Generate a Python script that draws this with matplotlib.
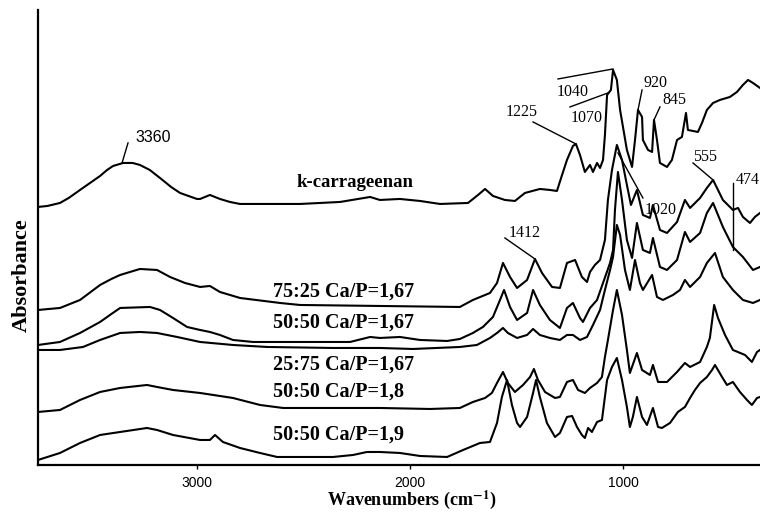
import matplotlib
matplotlib.use('Agg')
import matplotlib.pyplot as plt

# FTIR spectra: wavenumber (cm-1) and absorbance (a.u.),
# spectra already stacked the way the original figure shows them.

carr_wn = [3744, 3700, 3641, 3600, 3547, 3500, 3453, 3420, 3392, 3345, 3300, 3266, 3220,
           3172, 3120, 3078, 2999, 2984, 2938, 2891,
           2844, 2797, 2516, 2328, 2187, 2141, 2047, 1953, 1859, 1728, 1681, 1648, 1611,
           1555, 1508, 1461, 1391, 1344, 1311, 1287, 1264, 1236, 1222, 1203, 1180, 1156,
           1142, 1123, 1109, 1095, 1086, 1076, 1058, 1048, 1030, 1015, 983, 959, 945, 931,
           912, 908, 884, 865, 856, 842, 828, 795, 772, 748, 725, 706, 697, 650, 631, 608,
           579, 547, 500, 467, 439, 415, 392, 359]
carr_abs = [2.58, 2.59, 2.62, 2.67, 2.75, 2.82, 2.89, 2.95, 2.99, 3.02, 3.02, 3.00, 2.95,
            2.87, 2.78, 2.72, 2.66, 2.66, 2.70, 2.66,
            2.63, 2.61, 2.61, 2.63, 2.68, 2.65, 2.66, 2.64, 2.61, 2.62, 2.70, 2.76, 2.69,
            2.65, 2.64, 2.72, 2.76, 2.75, 2.74, 2.90, 3.05, 3.19, 3.21, 3.10, 2.93, 3.00,
            2.93, 3.02, 2.97, 3.05, 3.30, 3.70, 3.75, 3.95, 3.85, 3.55, 3.15, 2.98, 3.25,
            3.55, 3.48, 3.25, 3.15, 3.13, 3.45, 3.25, 3.02, 2.98, 3.05, 3.25, 3.28, 3.52,
            3.35, 3.33, 3.42, 3.55, 3.62, 3.65, 3.68, 3.73, 3.80, 3.85, 3.82, 3.77]

c7525_wn = [3744, 3641, 3547, 3453, 3400, 3359, 3266, 3186, 3125, 3055, 2984, 2938, 2891,
            2797, 2609, 2516, 2141, 1766, 1705, 1625, 1592, 1564, 1531, 1498, 1451, 1414,
            1381, 1334, 1297, 1264, 1226, 1194, 1170, 1156, 1133, 1109, 1086, 1072, 1053,
            1030, 1006, 983, 964, 936, 908, 875, 861, 828, 795, 748, 711, 687, 640, 608,
            579, 533, 486, 462, 439, 406, 383, 359]
c7525_abs = [1.55, 1.57, 1.65, 1.80, 1.86, 1.90, 1.96, 1.95, 1.88, 1.82, 1.78, 1.79, 1.73,
             1.67, 1.62, 1.60, 1.59, 1.58, 1.65, 1.72, 1.82, 2.02, 1.88, 1.77, 1.85, 2.06,
             1.92, 1.78, 1.77, 2.02, 2.05, 1.88, 1.83, 1.93, 2.00, 2.05, 2.25, 2.65, 2.95,
             3.20, 3.05, 2.80, 2.60, 2.75, 2.50, 2.47, 2.60, 2.35, 2.32, 2.43, 2.65, 2.57,
             2.67, 2.77, 2.85, 2.65, 2.55, 2.57, 2.48, 2.42, 2.48, 2.52]

c5050_wn = [3744, 3641, 3547, 3453, 3400, 3359, 3219, 3172, 3111, 3045, 2984, 2938, 2891,
            2830, 2736, 2281, 2187, 2141, 2047, 1953, 1826, 1766, 1705, 1658, 1611, 1578,
            1559, 1531, 1498, 1451, 1423, 1391, 1344, 1297, 1264, 1236, 1203, 1189, 1156,
            1123, 1095, 1062, 1048, 1039, 1025, 1006, 983, 959, 936, 908, 875, 861, 828,
            795, 748, 711, 687, 640, 608, 579, 533, 486, 439, 392, 359]
c5050_abs = [1.20, 1.23, 1.32, 1.43, 1.51, 1.57, 1.58, 1.55, 1.47, 1.38, 1.35, 1.33, 1.30,
             1.25, 1.23, 1.23, 1.28, 1.27, 1.28, 1.25, 1.24, 1.26, 1.32, 1.38, 1.48, 1.65,
             1.75, 1.58, 1.45, 1.52, 1.75, 1.60, 1.45, 1.37, 1.57, 1.62, 1.47, 1.43, 1.57,
             1.65, 1.82, 2.02, 2.15, 2.55, 2.93, 2.65, 2.25, 2.07, 2.42, 2.15, 2.12, 2.27,
             1.98, 1.95, 2.05, 2.33, 2.23, 2.32, 2.52, 2.62, 2.38, 2.18, 2.08, 1.95, 1.98]

c2575_wn = [3744, 3641, 3533, 3453, 3359, 3266, 3186, 3092, 2984, 2830, 2670, 2361, 2141,
            1986, 1766, 1686, 1625, 1592, 1564, 1541, 1498, 1451, 1423, 1391, 1344, 1297,
            1264, 1236, 1203, 1170, 1142, 1109, 1086, 1062, 1048, 1030, 1015, 992, 969,
            945, 922, 908, 865, 842, 814, 767, 734, 711, 687, 640, 608, 570, 533, 486,
            439, 392, 359]
c2575_abs = [1.15, 1.15, 1.18, 1.25, 1.32, 1.33, 1.32, 1.28, 1.23, 1.20, 1.18, 1.17, 1.17,
             1.16, 1.18, 1.20, 1.27, 1.32, 1.37, 1.32, 1.27, 1.30, 1.36, 1.30, 1.27, 1.25,
             1.30, 1.30, 1.25, 1.28, 1.40, 1.55, 1.75, 1.95, 2.08, 2.40, 2.30, 1.95, 1.75,
             2.05, 1.82, 1.75, 1.90, 1.68, 1.65, 1.70, 1.75, 1.85, 1.78, 1.88, 2.02, 2.12,
             1.88, 1.75, 1.65, 1.62, 1.65]

c18_wn = [3744, 3641, 3547, 3453, 3359, 3233, 3186, 3111, 2984, 2830, 2703, 2595, 2141,
          1906, 1766, 1705, 1648, 1616, 1592, 1564, 1541, 1508, 1470, 1437, 1419, 1400,
          1367, 1320, 1297, 1264, 1236, 1212, 1180, 1156, 1123, 1100, 1086, 1072, 1048,
          1030, 1006, 983, 969, 936, 912, 875, 861, 837, 795, 748, 711, 687, 640, 608,
          594, 574, 556, 523, 486, 429, 397, 373, 359]
c18_abs = [0.53, 0.55, 0.65, 0.73, 0.77, 0.80, 0.78, 0.75, 0.72, 0.67, 0.60, 0.57, 0.57,
           0.56, 0.57, 0.63, 0.67, 0.72, 0.82, 0.93, 0.82, 0.73, 0.80, 0.88, 0.96, 0.85,
           0.73, 0.67, 0.68, 0.83, 0.85, 0.75, 0.72, 0.77, 0.82, 0.88, 1.08, 1.25, 1.55,
           1.75, 1.50, 1.15, 0.92, 1.12, 0.95, 0.90, 1.00, 0.83, 0.83, 0.93, 1.02, 0.98,
           1.03, 1.18, 1.27, 1.60, 1.47, 1.30, 1.15, 1.10, 1.03, 1.13, 1.15]

c19_wn = [3744, 3641, 3547, 3453, 3359, 3233, 3186, 3111, 2984, 2938, 2914, 2877, 2797,
          2703, 2623, 2361, 2267, 2202, 2141, 2047, 1953, 1826, 1751, 1672, 1625, 1592,
          1569, 1545, 1522, 1498, 1484, 1451, 1423, 1409, 1391, 1358, 1320, 1297, 1264,
          1240, 1217, 1194, 1180, 1165, 1147, 1123, 1100, 1076, 1053, 1030, 1006, 983,
          969, 955, 936, 912, 889, 861, 837, 819, 781, 744, 711, 687, 664, 640, 608, 584,
          570, 537, 514, 486, 453, 420, 397, 373, 359]
c19_abs = [0.05, 0.12, 0.22, 0.30, 0.33, 0.37, 0.35, 0.30, 0.25, 0.25, 0.30, 0.23, 0.17,
           0.12, 0.08, 0.08, 0.10, 0.13, 0.13, 0.12, 0.09, 0.08, 0.15, 0.22, 0.23, 0.42,
           0.68, 0.85, 0.60, 0.42, 0.38, 0.48, 0.72, 0.85, 0.68, 0.42, 0.28, 0.32, 0.48,
           0.49, 0.38, 0.30, 0.27, 0.37, 0.33, 0.43, 0.45, 0.85, 0.98, 1.07, 0.85, 0.58,
           0.38, 0.48, 0.68, 0.48, 0.40, 0.57, 0.38, 0.37, 0.42, 0.53, 0.58, 0.67, 0.75,
           0.82, 0.88, 0.95, 1.00, 0.88, 0.80, 0.83, 0.73, 0.65, 0.60, 0.67, 0.68]

spectra = [(carr_wn, carr_abs), (c7525_wn, c7525_abs), (c5050_wn, c5050_abs),
           (c2575_wn, c2575_abs), (c18_wn, c18_abs), (c19_wn, c19_abs)]

names = ['k-carrageenan', '75:25 Ca/P=1,67', '50:50 Ca/P=1,67', '25:75 Ca/P=1,67',
         '50:50 Ca/P=1,8', '50:50 Ca/P=1,9']
name_wn = [2530, 2643, 2643, 2643, 2643, 2643]
name_abs = [2.82, 1.73, 1.42, 1.00, 0.73, 0.30]
name_size = [13.5, 14.5, 14.5, 14.5, 14.5, 14.5]

# peak labels: text, where the text sits, and the leader line (from -> to)
peak_text = ['3360', '1225', '1040', '1070', '920', '845', '1020', '555', '474', '1412']
peak_text_xy = [(3205, 3.27), (1475, 3.53), (1236, 3.73), (1170, 3.47), (851, 3.82),
                (762, 3.65), (823, 2.55), (617, 3.08), (415, 2.85), (1461, 2.32)]
peak_line = [((3322, 3.22), (3350, 3.02)), ((1423, 3.43), (1222, 3.21)),
             ((1306, 3.86), (1048, 3.96)), ((1250, 3.58), (1072, 3.72)),
             ((912, 3.75), (931, 3.55)), ((828, 3.58), (856, 3.45)),
             ((908, 2.67), (1025, 3.12)), ((673, 3.02), (579, 2.85)),
             ((486, 2.82), (486, 2.15)), ((1555, 2.27), (1414, 2.06))]
peak_family = ['Liberation Sans'] + ['Liberation Serif'] * 9

plt.rcParams['mathtext.fontset'] = 'stix'

fig = plt.figure(figsize=(7.6, 5.13), dpi=100)
ax = fig.add_axes([0.05, 0.0936, 0.95, 0.887])

for wn, ab in spectra:
  ax.plot(wn, ab, color='black', lw=1.5)

for name, x, y, fs in zip(names, name_wn, name_abs, name_size):
  ax.text(x, y, name, ha='left', va='center', fontsize=fs, fontweight='bold',
          family='Liberation Serif')

for t, (tx, ty), (p, q), fam in zip(peak_text, peak_text_xy, peak_line, peak_family):
  ax.plot([p[0], q[0]], [p[1], q[1]], color='black', lw=1.0)
  ax.text(tx, ty, t, ha='center', va='center', fontsize=11.5, family=fam)

ax.set_xlim(3744, 359)
ax.set_ylim(0, 4.55)
ax.set_xticks([3000, 2000, 1000])
ax.set_xticklabels(['3000', '2000', '1000'], family='Liberation Sans', fontsize=10)
ax.set_yticks([])
ax.tick_params(axis='x', direction='out', length=3, width=1, pad=5)
for s in ['top', 'right']:
  ax.spines[s].set_visible(False)
for s in ['left', 'bottom']:
  ax.spines[s].set_linewidth(1.6)

ax.set_xlabel(r'Wavenumbers (cm$^{\mathbf{-1}}$)', family='Liberation Serif',
              fontsize=13, fontweight='bold')
ax.xaxis.set_label_coords(0.518, -0.052)
ax.set_ylabel('Absorbance', family='Liberation Serif', fontsize=16, fontweight='bold')
ax.yaxis.set_label_coords(-0.008, 0.418)

fig.savefig('out.png', dpi=100)
